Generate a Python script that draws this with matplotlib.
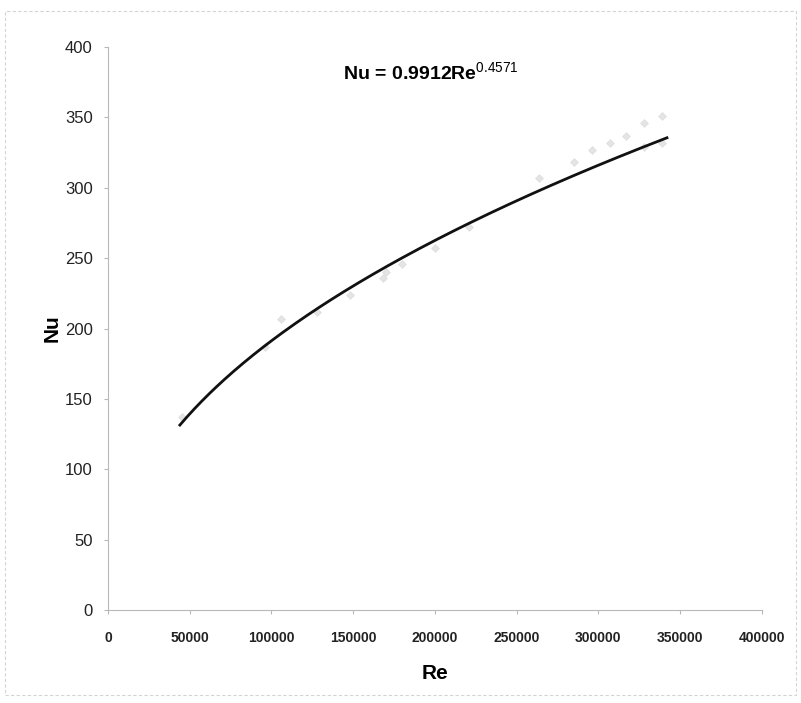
import numpy as np
import matplotlib
matplotlib.use("Agg")
import matplotlib.pyplot as plt
from matplotlib.patches import Rectangle

# Measured Reynolds / Nusselt pairs
re_values = [45000, 96000, 106000, 128000, 148000, 168000, 170000, 180000,
             200000, 221000, 264000, 285000, 296000, 307000, 317000,
             328000, 328000, 339000, 339000]
nu_values = [137, 187, 207, 212, 224, 236, 240, 246,
             257, 272, 307, 318, 327, 332, 337,
             346, 329, 351, 332]

# Power-law trendline Nu = C * Re^n
fit_coef = 0.9912
fit_exp = 0.4571
fit_range = [44000, 342000]

x_ticks = [0, 50000, 100000, 150000, 200000, 250000, 300000, 350000, 400000]
y_ticks = [0, 50, 100, 150, 200, 250, 300, 350, 400]

plt.rcParams['font.family'] = ['Liberation Sans', 'DejaVu Sans']
plt.rcParams['mathtext.fontset'] = 'custom'
plt.rcParams['mathtext.rm'] = 'Liberation Sans'

fig = plt.figure(figsize=(8.01, 7.03), dpi=100)
ax = fig.add_axes([0.1348, 0.1323, 0.8162, 0.8007])

ax.scatter(re_values, nu_values, marker='D', s=16, color='#e4e4e4',
           edgecolors='#dadada', linewidths=0.4, zorder=2)

re_fit = np.linspace(fit_range[0], fit_range[1], 200)
nu_fit = fit_coef * re_fit ** fit_exp
ax.plot(re_fit, nu_fit, color='#111111', linewidth=2.0, zorder=3)

ax.set_xlim(0, 400000)
ax.set_ylim(0, 400)
ax.set_xticks(x_ticks)
ax.set_yticks(y_ticks)
ax.set_xticklabels([str(v) for v in x_ticks], fontsize=10, fontweight='bold', color='#222222')
ax.set_yticklabels([str(v) for v in y_ticks], fontsize=12, color='#222222')

for side in ('top', 'right'):
    ax.spines[side].set_visible(False)
for side in ('left', 'bottom'):
    ax.spines[side].set_color('#b8b8b8')
    ax.spines[side].set_linewidth(0.8)
ax.tick_params(axis='both', direction='out', length=3, color='#b8b8b8', width=0.8)
ax.tick_params(axis='x', pad=12)
ax.tick_params(axis='y', pad=8)

ax.set_xlabel('Re', fontsize=15, fontweight='bold', labelpad=14)
ax.set_ylabel('Nu', fontsize=15, fontweight='bold', labelpad=2)

fig.text(0.428, 0.897, r'Nu = 0.9912Re$^{\mathrm{0.4571}}$', fontsize=14, fontweight='bold',
         va='center', ha='left')

# thin frame around the chart area
fig.patches.append(Rectangle((0.006, 0.012), 0.988, 0.972, transform=fig.transFigure,
                             fill=False, edgecolor='#d4d4d4', linewidth=0.8, linestyle=(0, (3, 2))))

fig.savefig('out.png', dpi=100)
